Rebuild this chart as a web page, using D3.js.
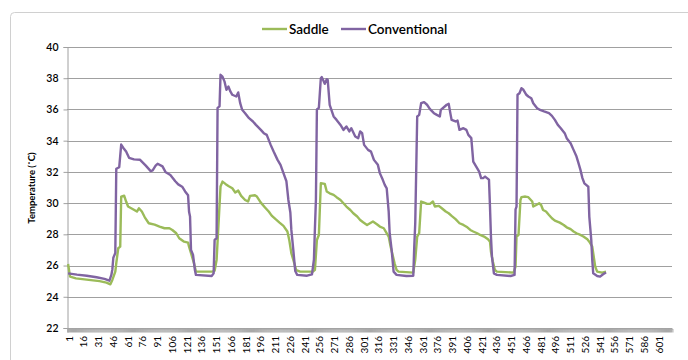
<!DOCTYPE html>
<html>
<head>
<meta charset="utf-8">
<script src="https://cdn.jsdelivr.net/npm/d3@7"></script>
<style>
  body { margin: 0; background: #fff; }
  svg { display: block; }
  text { font-family: Lato, "Open Sans", sans-serif; fill: #000; }
</style>
</head>
<body>
<svg id="chart" width="688" height="360"></svg>
<script>
// Series names and colours
const seriesNames = ["Saddle", "Conventional"];
const seriesColors = ["#9bbb59", "#8064a2"];

// Category axis: readings 1..615, labelled every 15th
const categoryCount = 615;
const labelStep = 15;

// Temperature axis ticks (°C)
const yTicks = [22, 24, 26, 28, 30, 32, 34, 36, 38, 40];

// Saddle temperatures as [reading, °C]
const saddle = [
  [1,26.1],[3,25.29],[9,25.18],[22,25.08],[33,25.0],[40,24.91],[44,24.8],[46,25.08],[49,25.61],[50,26.15],
  [52,27.11],[54,27.21],[55,30.42],[58,30.48],[60,30.1],[62,29.78],[67,29.61],[71,29.46],[73,29.67],[76,29.46],
  [79,29.09],[83,28.71],[89,28.62],[94,28.5],[99,28.39],[104,28.39],[107,28.28],[111,28.07],[114,27.75],[119,27.53],
  [123,27.47],[124,27.21],[126,26.79],[129,26.15],[131,25.61],[148,25.61],[150,25.67],[152,26.36],[153,27.53],[156,31.06],
  [158,31.38],[161,31.23],[164,31.1],[168,30.95],[171,30.68],[174,30.8],[177,30.46],[181,30.2],[184,30.1],[186,30.46],
  [191,30.5],[193,30.42],[197,30.03],[201,29.74],[205,29.46],[208,29.2],[212,28.97],[216,28.75],[220,28.54],[224,28.18],
  [226,27.6],[228,26.8],[231,26.15],[233,25.7],[237,25.61],[250,25.61],[252,25.72],[254,27.64],[256,27.96],[258,31.27],
  [262,31.23],[264,30.74],[267,30.63],[271,30.53],[274,30.38],[278,30.2],[281,29.99],[284,29.78],[288,29.56],[291,29.35],
  [295,29.14],[298,28.92],[301,28.77],[305,28.6],[308,28.71],[311,28.82],[315,28.65],[318,28.5],[322,28.39],[324,28.18],
  [327,27.86],[329,27.21],[331,26.68],[333,26.15],[335,25.72],[337,25.61],[352,25.55],[354,26.36],[356,27.86],[358,28.07],
  [360,30.1],[363,30.03],[366,29.95],[369,29.95],[372,30.1],[374,29.78],[378,29.82],[381,29.67],[385,29.46],[388,29.35],
  [391,29.18],[395,28.97],[399,28.71],[403,28.6],[407,28.45],[410,28.28],[413,28.18],[417,28.07],[420,27.96],[424,27.86],
  [428,27.68],[430,27.53],[431,26.89],[433,26.25],[435,25.72],[437,25.61],[454,25.55],[456,25.93],[457,27.86],[459,27.96],
  [461,30.2],[462,30.38],[466,30.42],[469,30.38],[473,30.1],[474,29.78],[477,29.88],[480,29.99],[482,29.88],[484,29.56],
  [487,29.46],[490,29.24],[493,29.03],[496,28.88],[501,28.75],[505,28.6],[508,28.45],[512,28.33],[515,28.18],[518,28.07],
  [522,27.96],[525,27.86],[529,27.68],[531,27.53],[534,27.21],[535,26.79],[537,25.93],[539,25.61],[544,25.55],[548,25.61]
];

// Conventional temperatures as [reading, °C]
const conventional = [
  [1,25.5],[10,25.42],[20,25.35],[30,25.25],[38,25.15],[43,25.03],[45,25.4],[46,25.75],[47,26.5],[49,26.8],
  [50,32.2],[53,32.3],[55,33.75],[57,33.55],[60,33.3],[63,32.9],[68,32.8],[74,32.78],[80,32.4],[85,32.05],
  [87,32.1],[90,32.4],[92,32.52],[97,32.35],[100,32.0],[105,31.8],[110,31.4],[113,31.2],[117,31.05],[120,30.75],
  [123,30.5],[124,29.45],[125,29.15],[126,27.0],[128,26.7],[130,25.7],[131,25.4],[147,25.33],[149,25.5],[150,27.64],
  [152,27.75],[153,36.1],[155,36.2],[156,38.22],[158,38.1],[160,37.8],[162,37.26],[164,37.47],[166,37.15],[168,36.94],
  [172,36.83],[174,37.09],[176,36.4],[178,35.98],[181,35.76],[185,35.44],[189,35.23],[192,35.01],[197,34.69],[200,34.48],
  [203,34.37],[207,33.73],[210,33.3],[214,32.77],[217,32.45],[220,31.92],[223,31.4],[225,30.2],[227,29.4],[228,28.3],
  [230,27.0],[232,25.65],[234,25.4],[244,25.35],[249,25.44],[251,26.4],[252,28.4],[253,30.2],[254,36.0],[256,36.1],
  [258,38.0],[259,38.07],[261,37.79],[262,37.64],[264,37.94],[265,37.9],[267,36.3],[271,35.55],[274,35.33],[278,35.01],
  [281,34.69],[284,34.91],[287,34.59],[289,34.8],[293,34.27],[296,34.16],[298,34.59],[300,34.48],[302,33.73],[306,33.41],
  [309,33.3],[312,32.77],[316,32.45],[318,31.92],[321,31.49],[323,31.17],[325,30.95],[327,29.46],[328,28.07],[330,27.0],
  [332,25.61],[335,25.4],[345,25.33],[352,25.35],[353,27.21],[354,28.71],[356,35.55],[358,35.65],[360,36.4],[363,36.47],
  [366,36.3],[369,36.02],[373,35.76],[376,35.65],[379,35.55],[380,35.97],[384,36.19],[386,36.3],[388,36.36],[390,35.65],
  [391,35.33],[395,35.23],[397,35.29],[399,34.69],[403,34.8],[406,34.69],[408,34.37],[411,34.16],[412,33.41],[413,32.66],
  [416,32.34],[419,32.02],[421,31.6],[423,31.6],[425,31.7],[428,31.55],[429,31.49],[430,29.78],[431,27.86],[432,26.57],
  [434,25.5],[437,25.4],[451,25.33],[455,25.4],[456,29.6],[457,29.78],[458,36.94],[460,37.04],[462,37.36],[464,37.26],
  [467,36.94],[469,36.83],[472,36.72],[474,36.4],[478,36.08],[481,35.97],[485,35.87],[490,35.76],[493,35.59],[496,35.33],
  [499,35.01],[502,34.8],[506,34.48],[508,34.16],[512,33.84],[515,33.41],[518,32.98],[520,32.56],[522,32.13],[524,31.6],
  [526,31.27],[529,31.1],[530,31.06],[531,29.14],[533,27.64],[534,26.36],[535,25.5],[539,25.33],[542,25.29],[545,25.44],
  [548,25.55]
];

const svg = d3.select("#chart");
const plot = { left: 67, right: 672, top: 47, bottom: 328 };
const gridColor = "#a0a0a0";

// Outer chart frame
svg.append("rect")
  .attr("x", 10.5).attr("y", 12.5)
  .attr("width", 720).attr("height", 400)
  .attr("rx", 4)
  .attr("fill", "none").attr("stroke", "#d0d0d0");

const categories = d3.range(1, categoryCount + 1);
const x = d3.scaleBand().domain(categories).range([plot.left + 0.6, plot.right + 0.4]);
const cx = i => x(i) + x.bandwidth() / 2;
const y = d3.scaleLinear().domain([22, 40]).range([plot.bottom, plot.top]);

// Horizontal gridlines
svg.append("g").selectAll("line").data(yTicks).join("line")
  .attr("x1", plot.left).attr("x2", plot.right)
  .attr("y1", d => Math.round(y(d)) + 0.5).attr("y2", d => Math.round(y(d)) + 0.5)
  .attr("stroke", gridColor).attr("stroke-width", 1);

// Value axis
const yAxis = svg.append("g").attr("transform", `translate(${plot.left + 0.5},0)`)
  .call(d3.axisLeft(y).tickValues(yTicks).tickSize(4).tickPadding(5).tickFormat(d3.format("d")));
yAxis.select(".domain").attr("stroke", gridColor);
yAxis.selectAll(".tick line").attr("stroke", gridColor);
yAxis.selectAll(".tick text").attr("font-size", 10.5).attr("font-family", "Lato, sans-serif")
  .attr("font-weight", 600).attr("fill", "#1a1a1a");

// Category axis: a tick at every category boundary, labels every 15th reading
const xAxis = svg.append("g").attr("transform", `translate(0,${Math.round(plot.bottom) + 0.5})`)
  .call(d3.axisBottom(x).tickValues(categories).tickSize(4).tickFormat(""));
xAxis.select(".domain").attr("stroke", gridColor);
xAxis.selectAll(".tick line").attr("stroke", "#a8a8a8").attr("transform", `translate(${-x.bandwidth() / 2},0)`);

const labelCats = categories.filter(c => (c - 1) % labelStep === 0);
svg.append("g").selectAll("text").data(labelCats).join("text")
  .attr("transform", d => `translate(${cx(d) + 0.5},336) rotate(-90)`)
  .attr("text-anchor", "end").attr("dominant-baseline", "central")
  .attr("font-size", 10).attr("fill", "#1a1a1a")
  .text(d => d);

// Axis title
svg.append("text")
  .attr("transform", "translate(35,188) rotate(-90)")
  .attr("text-anchor", "middle").attr("font-size", 9.5).attr("font-weight", 700)
  .text("Temperature (˚C)");

// Series lines
const line = d3.line().x(d => cx(d[0])).y(d => y(d[1]));
[saddle, conventional].forEach((data, k) => {
  svg.append("path").datum(data)
    .attr("d", line)
    .attr("fill", "none")
    .attr("stroke", seriesColors[k])
    .attr("stroke-width", 2.4)
    .attr("stroke-linejoin", "round");
});

// Legend
const legendItems = [
  { x: 262, w: 25 },
  { x: 341, w: 25 }
];
seriesNames.forEach((name, k) => {
  const g = svg.append("g").attr("transform", `translate(${legendItems[k].x},29)`);
  g.append("line").attr("x1", 0).attr("x2", legendItems[k].w)
    .attr("stroke", seriesColors[k]).attr("stroke-width", 2.4);
  g.append("text").attr("x", legendItems[k].w + 2).attr("dy", "0.35em")
    .attr("font-size", 13.5).attr("font-weight", 600).text(name);
});
</script>
</body>
</html>
